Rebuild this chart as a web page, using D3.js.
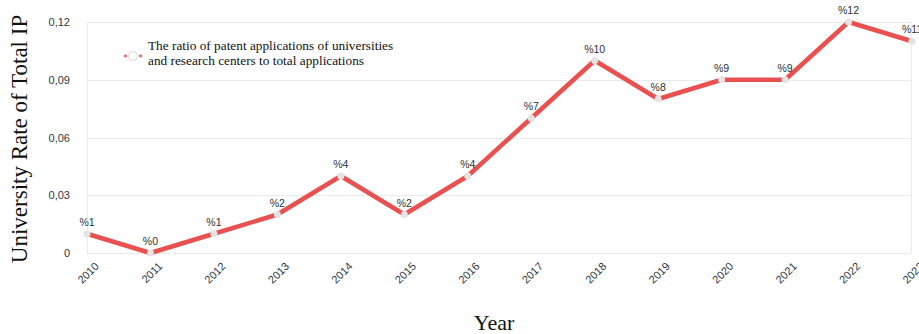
<!DOCTYPE html>
<style>
body { margin: 0; background: #fff; }
.grid line { stroke: #ebebeb; shape-rendering: crispEdges; }
.tick text { font-family: "Liberation Sans", Arial, sans-serif; font-size: 11px; fill: #2c3744; }
.lbl { font-family: "Liberation Sans", Arial, sans-serif; font-size: 10.5px; fill: #2c3339; }
.title { font-family: "Liberation Serif", "Times New Roman", serif; fill: #111; }
</style>
<svg width="919" height="334"></svg>
<script src="https://d3js.org/d3.v7.min.js"></script>
<script>

var years = ["2010", "2011", "2012", "2013", "2014", "2015", "2016",
             "2017", "2018", "2019", "2020", "2021", "2022", "2023"];
var ratios = [0.01, 0.0, 0.01, 0.02, 0.04, 0.02, 0.04,
              0.07, 0.10, 0.08, 0.09, 0.09, 0.12, 0.11];
var pointLabels = ["%1", "%0", "%1", "%2", "%4", "%2", "%4",
                   "%7", "%10", "%8", "%9", "%9", "%12", "%11"];
var yTicks = [0, 0.03, 0.06, 0.09, 0.12];
var yTickLabels = ["0", "0,03", "0,06", "0,09", "0,12"];
var legendLines = ["The ratio of patent applications of universities",
                   "and research centers to total applications"];

var svg = d3.select("svg");
var red = "#e8514f";

var x = d3.scalePoint().domain(years).range([87, 912]);
var y = d3.scaleLinear().domain([0, 0.12]).range([253, 22]);

// grid lines + frame
var grid = svg.append("g").attr("class", "grid");
grid.selectAll("line.h")
  .data(yTicks)
  .enter().append("line")
    .attr("x1", 87).attr("x2", 912)
    .attr("y1", function(d) { return Math.round(y(d)) + 0.5; })
    .attr("y2", function(d) { return Math.round(y(d)) + 0.5; });
grid.append("line").attr("x1", 87.5).attr("x2", 87.5).attr("y1", y(0.12)).attr("y2", y(0));
grid.append("line").attr("x1", 911.5).attr("x2", 911.5).attr("y1", y(0.12)).attr("y2", y(0));

// y axis labels
var yAxis = d3.axisLeft(y)
    .tickValues(yTicks)
    .tickFormat(function(d, i) { return yTickLabels[i]; })
    .tickSize(0)
    .tickPadding(17);
svg.append("g")
    .attr("transform", "translate(87,0)")
    .call(yAxis)
    .call(function(g) { g.select(".domain").remove(); });

// x axis labels, rotated
var xAxis = d3.axisBottom(x).tickSize(0).tickPadding(0);
var xg = svg.append("g")
    .attr("transform", "translate(0,253)")
    .call(xAxis)
    .call(function(g) { g.select(".domain").remove(); });
xg.selectAll(".tick text")
    .attr("text-anchor", "end")
    .attr("dy", null)
    .attr("transform", "translate(12,14) rotate(-45)");

// line
var line = d3.line()
    .x(function(d, i) { return x(years[i]); })
    .y(function(d) { return y(d); });

svg.append("path")
    .datum(ratios)
    .attr("fill", "none")
    .attr("stroke", red)
    .attr("stroke-width", 4.5)
    .attr("stroke-linejoin", "round")
    .attr("d", line);

svg.selectAll("circle.pt")
  .data(ratios)
  .enter().append("circle")
    .attr("class", "pt")
    .attr("cx", function(d, i) { return x(years[i]); })
    .attr("cy", function(d) { return y(d); })
    .attr("r", 3.5)
    .attr("fill", "#e4e4e4");

svg.selectAll("text.lbl")
  .data(ratios)
  .enter().append("text")
    .attr("class", "lbl")
    .attr("x", function(d, i) { return x(years[i]); })
    .attr("y", function(d) { return y(d) - 8; })
    .attr("text-anchor", "middle")
    .text(function(d, i) { return pointLabels[i]; });

// legend
var leg = svg.append("g").attr("transform", "translate(133,56)");
leg.selectAll("circle.dot")
  .data([-7.5, 7.5])
  .enter().append("circle")
    .attr("cx", function(d) { return d; })
    .attr("r", 1.4)
    .attr("fill", red);
leg.append("circle").attr("r", 4.5).attr("fill", "#fff")
    .attr("stroke", "#e2e2e2").attr("stroke-width", 1.5);
leg.selectAll("text")
  .data(legendLines)
  .enter().append("text")
    .attr("class", "title")
    .attr("x", 15)
    .attr("y", function(d, i) { return -6 + i * 15; })
    .style("font-size", "13.3px")
    .text(function(d) { return d; });

// axis titles
svg.append("text")
    .attr("class", "title")
    .attr("transform", "translate(27,139) rotate(-90)")
    .attr("text-anchor", "middle")
    .style("font-size", "23px")
    .text("University Rate of Total IP");

svg.append("text")
    .attr("class", "title")
    .attr("x", 494)
    .attr("y", 330)
    .attr("text-anchor", "middle")
    .style("font-size", "22px")
    .text("Year");

</script>
